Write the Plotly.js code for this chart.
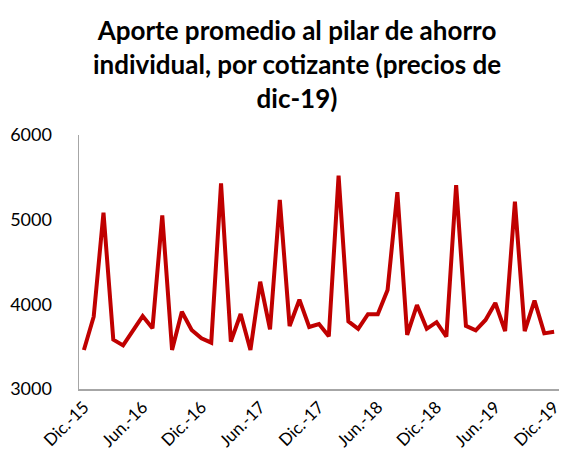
<!DOCTYPE html>
<html>
<head>
<meta charset="utf-8">
<script src="https://cdn.plot.ly/plotly-3.0.1.min.js"></script>
<style>html,body{margin:0;padding:0;background:#fff;}#chart{width:564px;height:467px;}</style>
</head>
<body>
<div id="chart"></div>
<script>
const monthNames = ["Ene.","Feb.","Mar.","Abr.","May.","Jun.","Jul.","Ago.","Sep.","Oct.","Nov.","Dic."];
const categories = ["Dic.-15"];
for (let y = 16; y <= 19; y++) { for (let m = 0; m < 12; m++) categories.push(monthNames[m] + "-" + y); }
const values = [
  3461, 3854, 5082, 3583, 3515, 3693, 3862, 3717, 5050, 3461,
  3913, 3697, 3598, 3547, 5429, 3559, 3886, 3461, 4267, 3705,
  5232, 3744, 4055, 3732, 3768, 3622, 5520, 3799, 3711, 3884,
  3884, 4169, 5325, 3638, 3992, 3711, 3789, 3618, 5409, 3746,
  3693, 3815, 4016, 3683, 5212, 3683, 4045, 3657, 3675
];
const tickLabels = ["Dic.-15","Jun.-16","Dic.-16","Jun.-17","Dic.-17","Jun.-18","Dic.-18","Jun.-19","Dic.-19"];
const yTicks = [3000, 4000, 5000, 6000];

const trace = {
  x: categories, y: values, type: "scatter", mode: "lines",
  line: {color: "#C00000", width: 4}, hoverinfo: "skip"
};
const layout = {
  width: 564, height: 467,
  margin: {l: 79, r: 5, t: 135, b: 78},
  paper_bgcolor: "#fff", plot_bgcolor: "#fff",
  showlegend: false,
  font: {family: "Lato, Calibri, sans-serif", color: "#000"},
  title: {
    text: "Aporte promedio al pilar de ahorro<br>individual, por cotizante (precios de<br>dic-19)",
    font: {family: "Lato, sans-serif", size: 26, color: "#000", weight: "bold"},
    x: 297/564, xref: "container", xanchor: "center",
    y: 1 - 40/467, yref: "container", yanchor: "middle"
  },
  xaxis: {
    type: "category", categoryorder: "array", categoryarray: categories,
    range: [-0.5, categories.length - 0.5],
    tickmode: "array", tickvals: tickLabels, ticktext: tickLabels,
    tickangle: -45, ticks: "", showgrid: false, zeroline: false,
    showline: true, linecolor: "#A6A6A6", linewidth: 1.5,
    tickfont: {size: 17, color: "#000"}
  },
  yaxis: {
    range: [3000, 6000], tickmode: "array", tickvals: yTicks,
    ticks: "", showgrid: false, zeroline: false,
    showline: true, linecolor: "#A6A6A6", linewidth: 1.5,
    tickfont: {size: 18, color: "#000"}, ticklabelstandoff: 22
  }
};
Plotly.newPlot("chart", [trace], layout, {staticPlot: true, displayModeBar: false});
</script>
</body>
</html>
